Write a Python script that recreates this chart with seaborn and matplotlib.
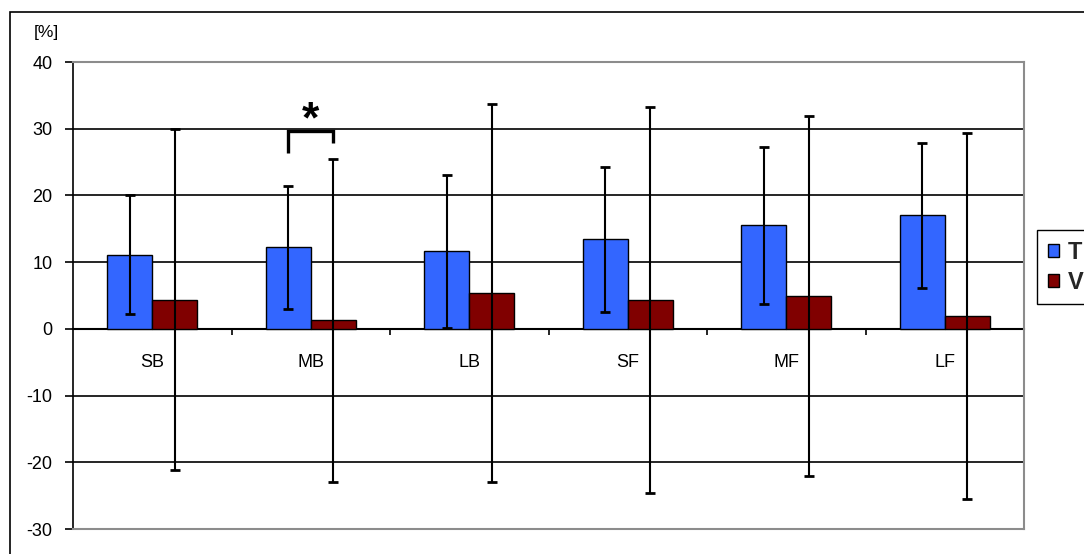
import matplotlib
matplotlib.use("Agg")
import matplotlib.pyplot as plt
from matplotlib.patches import Patch, Rectangle
import numpy as np
import pandas as pd
import seaborn as sns

# Categories and series
categories = ["SB", "MB", "LB", "SF", "MF", "LF"]
series = ["T", "V"]
t_values = [11.1, 12.2, 11.6, 13.4, 15.5, 17.0]
v_values = [4.4, 1.3, 5.4, 4.35, 4.95, 1.95]
t_errors = [8.9, 9.2, 11.5, 10.85, 11.75, 10.85]
v_errors = [25.6, 24.2, 28.3, 28.9, 27.0, 27.45]
y_ticks = [-30, -20, -10, 0, 10, 20, 30, 40]
unit_label = "[%]"
sig_label = "*"

colors = {"T": "#3366FF", "V": "#800000"}

df = pd.DataFrame({
    "category": categories * 2,
    "series": ["T"] * len(categories) + ["V"] * len(categories),
    "value": t_values + v_values,
})

sns.set_theme(style="white")
plt.rcParams["font.family"] = ["Liberation Sans", "DejaVu Sans"]
plt.rcParams["axes.unicode_minus"] = False

fig = plt.figure(figsize=(10.84, 5.54), dpi=100)
fig.patch.set_facecolor("white")
ax = fig.add_axes([73 / 1084, 1 - 529 / 554, (1024 - 73) / 1084, (529 - 62) / 554])
ax.set_facecolor("white")

# Horizontal grid drawn under the bars
ax.set_ylim(-30, 40)
ax.set_yticks(y_ticks)
ax.grid(axis="y", color="black", linewidth=1.2)
ax.set_axisbelow(True)

sns.barplot(data=df, x="category", y="value", hue="series", order=categories,
            hue_order=series, palette=colors, width=0.568, edgecolor="black",
            linewidth=1.0, saturation=1, errorbar=None, legend=False, ax=ax)
ax.set_xlim(-0.5, len(categories) - 0.5)

# Error bars centred on each bar
bars = [p for p in ax.patches if isinstance(p, Rectangle) and p.get_width() > 0]
bars.sort(key=lambda p: p.get_x())
centers = [p.get_x() + p.get_width() / 2 for p in bars]
heights = [p.get_height() for p in bars]
errs = []
for t_e, v_e in zip(t_errors, v_errors):
    errs += [t_e, v_e]
ax.errorbar(centers, heights, yerr=errs, fmt="none", ecolor="black",
            elinewidth=1.5, capsize=3.6, capthick=2, zorder=5)

# Significance bracket between T and V of MB
i_mb = categories.index("MB")
x_t, x_v = centers[2 * i_mb], centers[2 * i_mb + 1]
ax.plot([x_t, x_t, x_v, x_v], [26.3, 29.7, 29.7, 27.8], color="black",
        linewidth=2.4, solid_capstyle="butt", solid_joinstyle="miter", zorder=6)
ax.text((x_t + x_v) / 2, 31.2, sig_label, ha="center", va="center",
        fontsize=32, fontweight="bold", color="black", zorder=6)

# Frame: black value axis, grey border elsewhere
for side in ["top", "right", "bottom"]:
    ax.spines[side].set_color("#8c8c8c")
    ax.spines[side].set_linewidth(1.5)
ax.spines["left"].set_color("black")
ax.spines["left"].set_linewidth(1.2)

ax.tick_params(axis="y", direction="out", length=5.6, width=1.2, color="black",
               left=True, pad=9, labelsize=13, labelcolor="black")
ax.set_xticks([])
ax.set_xlabel("")
ax.set_ylabel("")

# Category axis sitting on the zero line
sec = ax.secondary_xaxis(0, transform=ax.transData)
sec.spines["bottom"].set_color("black")
sec.spines["bottom"].set_linewidth(1.5)
sec.set_xticks(np.arange(len(categories)) + 0.5)
sec.set_xticklabels([])
sec.set_xticks(np.arange(len(categories)), minor=True)
sec.set_xticklabels(categories, minor=True)
sec.tick_params(axis="x", which="major", direction="out", length=4, width=1.2,
                color="black", bottom=True)
sec.tick_params(axis="x", which="minor", length=0, pad=18, labelsize=13,
                labelcolor="black")

fig.text(46 / 1084, 1 - 33 / 554, unit_label, ha="center", va="center",
         fontsize=12.5, color="black")

# Legend box
handles = [Patch(facecolor=colors[s], edgecolor="black", linewidth=1.0) for s in series]
fig.legend(handles, series, loc="upper left",
           bbox_to_anchor=(1037 / 1084, 1 - 230 / 554), bbox_transform=fig.transFigure,
           frameon=True, fancybox=False, edgecolor="black", framealpha=1,
           prop={"size": 17, "weight": "bold"}, handlelength=0.5, handleheight=0.5,
           handletextpad=0.35, labelspacing=0.3, borderpad=0.45, borderaxespad=0)

# Outer chart border
fig.patches.append(Rectangle((10 / 1084, -0.1), 1.2, 1 - 12 / 554 + 0.1,
                             transform=fig.transFigure, fill=False,
                             edgecolor="black", linewidth=1.2))

fig.savefig("out.png", dpi=100, facecolor="white")
